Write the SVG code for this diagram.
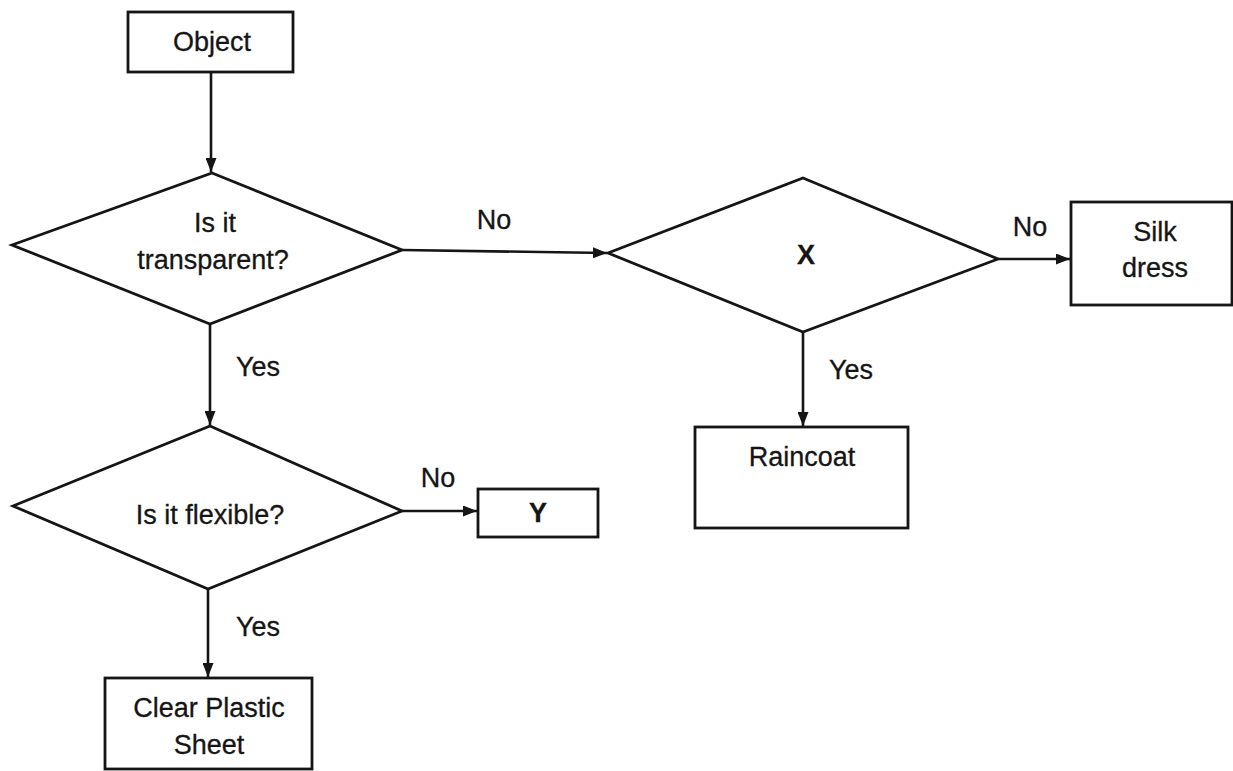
<svg xmlns="http://www.w3.org/2000/svg" width="1233" height="771" viewBox="0 0 1233 771">
<style>
.shape{fill:#ffffff;stroke:#151515;stroke-width:2.8}
.line{fill:none;stroke:#151515;stroke-width:2.6}
text{font-family:"Liberation Sans",Arial,sans-serif;font-size:27px;fill:#151515;stroke:#151515;stroke-width:0.3;text-anchor:middle}
.bold{font-weight:bold}
</style>
<defs>
<marker id="arr" viewBox="0 0 14 11" refX="14" refY="5.5" markerWidth="14" markerHeight="11" markerUnits="userSpaceOnUse" orient="auto">
<path d="M0,0 L14,5.5 L0,11 Z" fill="#151515"/>
</marker>
</defs>
<rect width="1233" height="771" fill="#ffffff"/>
<g id="connectors">
<line class="line" x1="211" y1="72" x2="211" y2="172" marker-end="url(#arr)"/>
<line class="line" x1="402" y1="250" x2="607" y2="253" marker-end="url(#arr)"/>
<line class="line" x1="998" y1="259" x2="1070" y2="259" marker-end="url(#arr)"/>
<line class="line" x1="803" y1="332" x2="803" y2="426" marker-end="url(#arr)"/>
<line class="line" x1="210" y1="324" x2="210" y2="425" marker-end="url(#arr)"/>
<line class="line" x1="402" y1="511" x2="477" y2="511" marker-end="url(#arr)"/>
<line class="line" x1="208" y1="589" x2="208" y2="677" marker-end="url(#arr)"/>
<text x="494" y="229">No</text>
<text x="1030" y="236">No</text>
<text x="851" y="379">Yes</text>
<text x="258" y="376">Yes</text>
<text x="438" y="487">No</text>
<text x="258" y="636">Yes</text>
</g>
<g id="object">
<rect class="shape" x="128" y="12" width="165" height="60"/>
<text x="212" y="51">Object</text>
</g>
<g id="transparent">
<polygon class="shape" points="212,173 402,250 210,324 12,245"/>
<text x="215" y="232">Is it</text>
<text x="213" y="269">transparent?</text>
</g>
<g id="x">
<polygon class="shape" points="803,178 998,259 803,332 608,253"/>
<text class="bold" x="806" y="264">X</text>
</g>
<g id="silk">
<rect class="shape" x="1071" y="202" width="161" height="103"/>
<text x="1155" y="241">Silk</text>
<text x="1155" y="277">dress</text>
</g>
<g id="raincoat">
<rect class="shape" x="695" y="427" width="213" height="101"/>
<text x="802" y="466">Raincoat</text>
</g>
<g id="flexible">
<polygon class="shape" points="210,426 402,511 208,589 13,506"/>
<text x="210" y="524">Is it flexible?</text>
</g>
<g id="y">
<rect class="shape" x="478" y="489" width="120" height="48"/>
<text class="bold" x="538" y="522">Y</text>
</g>
<g id="clear">
<rect class="shape" x="105" y="678" width="207" height="91"/>
<text x="209" y="717">Clear Plastic</text>
<text x="209" y="754">Sheet</text>
</g>
</svg>
